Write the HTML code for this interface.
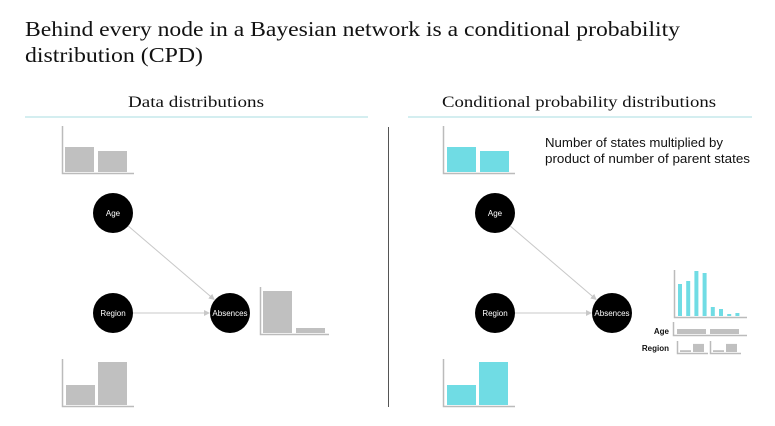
<!DOCTYPE html>
<html><head><meta charset="utf-8">
<style>
html,body{margin:0;padding:0;background:#fff;}
svg{display:block;}
.serif{font-family:"Liberation Serif",serif;fill:#111;}
.sans{font-family:"Liberation Sans",sans-serif;}
</style></head>
<body>
<svg id="c" width="775" height="426" viewBox="0 0 775 426" xmlns="http://www.w3.org/2000/svg">
<defs><marker id="arr" markerWidth="6" markerHeight="6" refX="5" refY="3" orient="auto"><path d="M0,0 L6,3 L0,6 Z" fill="#c8c8c8"/></marker></defs>
<text class="serif" x="25" y="36" font-size="21" textLength="655" lengthAdjust="spacingAndGlyphs">Behind every node in a Bayesian network is a conditional probability</text>
<text class="serif" x="25" y="62" font-size="21" textLength="178" lengthAdjust="spacingAndGlyphs">distribution (CPD)</text>
<text class="serif" x="128" y="107" font-size="16" textLength="136" lengthAdjust="spacingAndGlyphs">Data distributions</text>
<text class="serif" x="442" y="107" font-size="16" textLength="274" lengthAdjust="spacingAndGlyphs">Conditional probability distributions</text>
<line x1="25" y1="117" x2="368" y2="117" stroke="#a9dde2" stroke-width="1"/>
<line x1="408" y1="117" x2="752" y2="117" stroke="#a9dde2" stroke-width="1"/>
<line x1="388.5" y1="127" x2="388.5" y2="407" stroke="#555" stroke-width="1"/>
<text class="sans" font-size="12.5" fill="#111"><tspan x="545" y="147" textLength="178" lengthAdjust="spacingAndGlyphs">Number of states multiplied by</tspan><tspan x="545" y="163" textLength="205" lengthAdjust="spacingAndGlyphs">product of number of parent states</tspan></text>
<g id="marks"></g>
</svg>
<script>
// Data
const ageCats = ["young","old"];
const ageValues = [25, 21];
const regionCats = ["north","south"];
const regionValues = [20, 43];
const absCats = ["low","high"];
const absValues = [42, 5];
const cpdCats = ["a1","a2","a3","a4","a5","a6","a7","a8"];
const cpdValues = [32, 35, 45, 43, 9, 7, 2, 3];
const cpdAgeRow = [1, 1];
const cpdRegionA = [2, 9];
const cpdRegionB = [2, 9];
const nodeNames = ["Age","Region","Absences"];

const NS="http://www.w3.org/2000/svg";
const g=document.getElementById('marks');
function mk(tag,attrs,parent){const e=document.createElementNS(NS,tag);for(const k in attrs)e.setAttribute(k,attrs[k]);(parent||g).appendChild(e);return e;}

function miniChart(name,values,x0,yBase,axisH,axisW,barW,gap,maxV,plotH,color,off){
  const grp=mk('g',{});
  
  
  const y=v=>yBase-(v/maxV)*plotH;
  values.forEach((v,i)=>{
    const r=mk('rect',{x:x0+off+i*(barW+gap),y:y(v),width:barW,height:yBase-y(v),fill:color},grp);
    
    
  });
  const ax=mk('path',{d:`M${x0+0.5},${yBase-axisH} V${yBase+1.5} H${x0+axisW}`,stroke:'#bbb','stroke-width':1.5,fill:'none'},grp);
  
  
}
const grey='#c0c0c0', cyan='#70dce4';
miniChart('age-data-chart',ageValues,62,172,46,72,29,4,50,50,grey,3);
miniChart('region-data-chart',regionValues,62,405,46,72,29,3,50,50,grey,4);
miniChart('absences-data-chart',absValues,260,333,46,69,29,4,50,50,grey,3);
miniChart('age-cpd-chart',ageValues,443,172,46,72,29,4,50,50,cyan,4);
miniChart('region-cpd-chart',regionValues,443,405,46,72,29,3,50,50,cyan,4);
miniChart('absences-cpd-chart',cpdValues,674,316,46,73,4,4.2,50,50,cyan,4);
miniChart('cpd-age-row',cpdAgeRow,673,334,12,74,29,4,1,5,grey,4);
miniChart('cpd-region-row-1',cpdRegionA,677,352,11,31,11,2,10,9,grey,3);
miniChart('cpd-region-row-2',cpdRegionB,710,352,11,31,11,2,10,9,grey,3);

const lbl1=mk('text',{x:669,y:334,'font-size':8,'font-weight':'bold','text-anchor':'end',class:'sans',fill:'#111'});
lbl1.textContent='Age';


const lbl2=mk('text',{x:669,y:351,'font-size':8,'font-weight':'bold','text-anchor':'end',class:'sans',fill:'#111'});
lbl2.textContent='Region';



function network(side,ox){
  const pos=[[ox,213],[ox,313],[ox+117,313]];
  [[0,2],[1,2]].forEach(([a,b],i)=>{
    const [x1,y1]=pos[a],[x2,y2]=pos[b];
    const dx=x2-x1,dy=y2-y1,L=Math.hypot(dx,dy);
    const l=mk('line',{x1:x1+dx/L*20,y1:y1+dy/L*20,x2:x2-dx/L*21,y2:y2-dy/L*21,stroke:'#c8c8c8','stroke-width':1,'marker-end':'url(#arr)'});
    
    
  });
  nodeNames.forEach((n,i)=>{
    const c=mk('circle',{cx:pos[i][0],cy:pos[i][1],r:20,fill:'#000'});
    
    
    const t=mk('text',{x:pos[i][0],y:pos[i][1]+3,'font-size':8,'text-anchor':'middle',fill:'#fff',class:'sans'});
    t.textContent=n;
    
    
  });
}
network('left',113);
network('right',495);
</script>
</body></html>
